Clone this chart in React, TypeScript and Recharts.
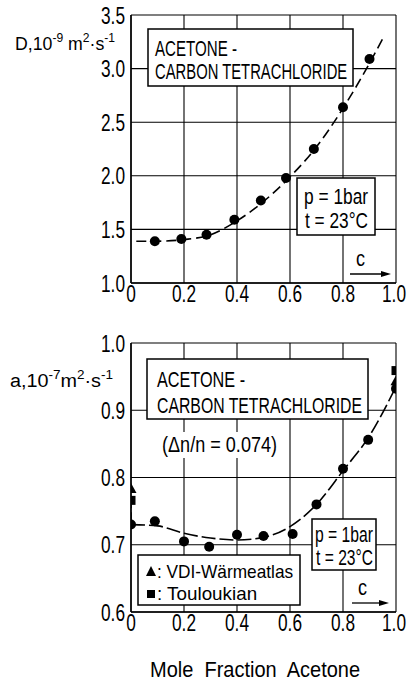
import React, { useLayoutEffect, useRef, useState } from 'react';
import { ComposedChart, XAxis, YAxis, CartesianGrid, Line, Scatter } from 'recharts';

// ---- data ----
// top panel: binary diffusion coefficient D (10^-9 m^2/s) vs mole fraction acetone
const topC = [0.09, 0.19, 0.285, 0.39, 0.49, 0.585, 0.69, 0.8, 0.9];
const topD = [1.39, 1.41, 1.45, 1.59, 1.77, 1.98, 2.25, 2.64, 3.09];
const topFitC = [0.02, 0.1, 0.2, 0.3, 0.4, 0.5, 0.6, 0.7, 0.8, 0.9, 0.95];
const topFitD = [1.39, 1.39, 1.405, 1.45, 1.58, 1.76, 1.99, 2.27, 2.63, 3.05, 3.28];
const topYTicks = [1.0, 1.5, 2.0, 2.5, 3.0, 3.5];

// bottom panel: thermal diffusivity a (10^-7 m^2/s)
const botC = [0, 0.09, 0.2, 0.295, 0.4, 0.5, 0.61, 0.7, 0.8, 0.895, 1.0];
const botA = [0.73, 0.735, 0.705, 0.697, 0.715, 0.713, 0.716, 0.76, 0.813, 0.856, 0.932];
const botFitC = [0, 0.1, 0.2, 0.3, 0.4, 0.5, 0.6, 0.7, 0.8, 0.9, 1.0];
const botFitA = [0.73, 0.728, 0.717, 0.71, 0.707, 0.711, 0.727, 0.76, 0.81, 0.862, 0.935];
const linkC = [0, 0];
const linkA = [0.766, 0.73];
const vdiC = [0, 1.0];
const vdiA = [0.783, 0.943];
const toulC = [0, 1.0];
const toulA = [0.766, 0.959];
const botYTicks = [0.6, 0.7, 0.8, 0.9, 1.0];

const xTicks = [0, 0.2, 0.4, 0.6, 0.8, 1.0];

const zip = (xs: number[], ys: number[]) => xs.map((c, i) => ({ c, v: ys[i] }));

const F = "'Liberation Sans', Arimo, Arial, sans-serif";
const SX = 0.72;

const xFmt = (v: number) => (v === 0 ? '0' : v.toFixed(1));
const yFmt = (v: number) => v.toFixed(1);

const XTick = (p: any) => (
  <text
    transform={`translate(${p.x - (p.payload.value === 1 ? 2 : 0)},${p.y}) scale(${SX},1)`}
    textAnchor="middle"
    dy="0.72em"
    fontSize={24}
    fontFamily={F}
    fill="#000"
  >
    {xFmt(p.payload.value)}
  </text>
);
const YTick = (p: any) => (
  <text
    transform={`translate(${p.x},${p.y}) scale(${SX},1)`}
    textAnchor="end"
    dy="0.36em"
    fontSize={24}
    fontFamily={F}
    fill="#000"
  >
    {yFmt(p.payload.value)}
  </text>
);

const Dot = (p: any) => <circle cx={p.cx} cy={p.cy} r={5} fill="#000" />;
const Tri = (p: any) => (
  <polygon points={`${p.cx},${p.cy - 6} ${p.cx - 5.5},${p.cy + 4} ${p.cx + 5.5},${p.cy + 4}`} fill="#000" />
);
const Sq = (p: any) => <rect x={p.cx - 4.5} y={p.cy - 4.5} width={9} height={9} fill="#000" />;

function Panel(props: {
  height: number;
  top: number;
  bottom: number;
  yDomain: [number, number];
  yTicks: number[];
  children: React.ReactNode;
}) {
  return (
    <ComposedChart
      width={408}
      height={props.height}
      margin={{ top: props.top, right: 12, left: 0, bottom: props.bottom }}
    >
      <CartesianGrid stroke="#000" strokeWidth={1.1} />
      <XAxis
        type="number"
        dataKey="c"
        domain={[0, 1]}
        ticks={xTicks}
        interval={0}
        tick={XTick}
        tickLine={false}
        tickSize={0}
        tickMargin={2}
        height={30}
        axisLine={{ stroke: '#000', strokeWidth: 1.5 }}
        allowDataOverflow
      />
      <YAxis
        type="number"
        dataKey="v"
        domain={props.yDomain}
        ticks={props.yTicks}
        interval={0}
        tick={YTick}
        tickLine={false}
        tickSize={0}
        tickMargin={6}
        width={131}
        axisLine={{ stroke: '#000', strokeWidth: 1.5 }}
        allowDataOverflow
      />
      {props.children}
    </ComposedChart>
  );
}

// text squeezed horizontally to a given width (narrow drafting font look)
function T(p: { x: number; y: number; w: number; s?: number; children: React.ReactNode }) {
  const ref = useRef<SVGTextElement>(null);
  const [k, setK] = useState(0.7);
  useLayoutEffect(() => {
    const el = ref.current;
    if (el) {
      const n = el.getComputedTextLength();
      if (n > 0) setK(p.w / n);
    }
  }, [p.w]);
  return (
    <text
      ref={ref}
      transform={`translate(${p.x},${p.y}) scale(${k},1)`}
      fontSize={p.s ?? 22}
      fontFamily={F}
      fill="#000"
      style={{ whiteSpace: 'pre' }}
    >
      {p.children}
    </text>
  );
}

export default function App() {
  return (
    <div style={{ position: 'absolute', left: 0, top: 0, width: 408, height: 682, background: '#fff' }}>
      <div style={{ position: 'absolute', left: 0, top: 0 }}>
        <Panel height={320} top={15} bottom={7} yDomain={[1, 3.5]} yTicks={topYTicks}>
          <Line
            data={zip(topFitC, topFitD)}
            dataKey="v"
            type="monotone"
            stroke="#000"
            strokeWidth={1.6}
            strokeDasharray="10 5"
            dot={false}
            isAnimationActive={false}
          />
          <Scatter data={zip(topC, topD)} dataKey="v" shape={Dot} isAnimationActive={false} />
        </Panel>
      </div>
      <div style={{ position: 'absolute', left: 0, top: 320 }}>
        <Panel height={362} top={23} bottom={40} yDomain={[0.6, 1.0]} yTicks={botYTicks}>
          <Line
            data={zip(botFitC, botFitA)}
            dataKey="v"
            type="monotone"
            stroke="#000"
            strokeWidth={1.6}
            strokeDasharray="14 4"
            dot={false}
            isAnimationActive={false}
          />
          <Line
            data={zip(linkC, linkA)}
            dataKey="v"
            type="linear"
            stroke="#000"
            strokeWidth={1.6}
            strokeDasharray="8 4"
            dot={false}
            isAnimationActive={false}
          />
          <Scatter data={zip(botC, botA)} dataKey="v" shape={Dot} isAnimationActive={false} />
          <Scatter data={zip(vdiC, vdiA)} dataKey="v" shape={Tri} isAnimationActive={false} />
          <Scatter data={zip(toulC, toulA)} dataKey="v" shape={Sq} isAnimationActive={false} />
        </Panel>
      </div>
      <svg
        width={408}
        height={682}
        style={{ position: 'absolute', left: 0, top: 0, pointerEvents: 'none' }}
      >
        {/* ---- top panel annotations ---- */}
        <T x={15} y={50} w={100} s={19}>
          D,10<tspan dy={-8} fontSize={13}>-9</tspan>
          <tspan dy={8}> m</tspan>
          <tspan dy={-8} fontSize={13}>2</tspan>
          <tspan dy={8}>·s</tspan>
          <tspan dy={-8} fontSize={13}>-1</tspan>
        </T>
        <rect x={148} y={29} width={205} height={57} fill="#fff" stroke="#000" strokeWidth={1.5} />
        <T x={155} y={56} w={82}>ACETONE -</T>
        <T x={155} y={79} w={192}>CARBON TETRACHLORIDE</T>
        <rect x={297} y={178} width={78} height={57} fill="#fff" stroke="#000" strokeWidth={1.5} />
        <T x={304} y={204} w={64}>p = 1bar</T>
        <T x={305} y={228} w={63}>t = 23°C</T>
        <T x={356} y={266} w={9}>c</T>
        <line x1={350} y1={274} x2={384} y2={274} stroke="#000" strokeWidth={1.3} />
        <polygon points="381,271 391,274 381,277" fill="#000" />

        {/* ---- bottom panel annotations ---- */}
        <T x={10} y={387} w={103} s={19}>
          a,10<tspan dy={-8} fontSize={13}>-7</tspan>
          <tspan dy={8}>m</tspan>
          <tspan dy={-8} fontSize={13}>2</tspan>
          <tspan dy={8}>·s</tspan>
          <tspan dy={-8} fontSize={13}>-1</tspan>
        </T>
        <rect x={147} y={359} width={221} height={60} fill="#fff" stroke="#000" strokeWidth={1.5} />
        <T x={157} y={387} w={88}>ACETONE -</T>
        <T x={157} y={413} w={205}>CARBON TETRACHLORIDE</T>
        <rect x={158} y={432} width={124} height={26} fill="#fff" />
        <T x={162} y={452} w={115}>(Δn/n = 0.074)</T>
        <rect x={312} y={519} width={64} height={51} fill="#fff" stroke="#000" strokeWidth={1.5} />
        <T x={315} y={542} w={58}>p = 1bar</T>
        <T x={316} y={565} w={57}>t = 23°C</T>
        <rect x={138} y={555} width={162} height={50} fill="#fff" stroke="#000" strokeWidth={1.5} />
        <polygon points="151,566 146,576 156,576" fill="#000" />
        <T x={157} y={578} w={136} s={19}>: VDI-Wärmeatlas</T>
        <rect x={147} y={590} width={8} height={8} fill="#000" />
        <T x={157} y={600} w={100} s={19}>: Touloukian</T>
        <T x={358} y={595} w={9}>c</T>
        <line x1={352} y1={603} x2={382} y2={603} stroke="#000" strokeWidth={1.3} />
        <polygon points="379,600 389,603 379,606" fill="#000" />
        <T x={150} y={677} w={210}>Mole  Fraction  Acetone</T>
      </svg>
    </div>
  );
}
